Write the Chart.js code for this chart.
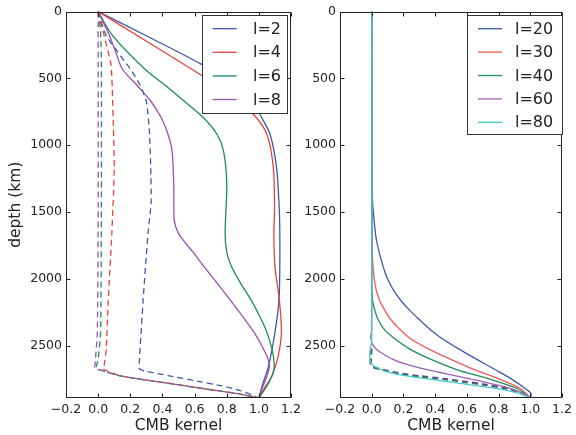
<!DOCTYPE html>
<html><head><meta charset="utf-8">
<script src="https://cdn.jsdelivr.net/npm/chart.js@4"></script>
<style>
html,body{margin:0;padding:0;background:#fff;width:576px;height:435px;overflow:hidden}
#cl{position:absolute;left:0;top:0}
#cr{position:absolute;left:305px;top:0}
</style></head>
<body>
<canvas id="cl" width="305" height="435"></canvas>
<canvas id="cr" width="271" height="435"></canvas>
<script>
// ---------- data ----------
const xTicks = [-0.2, 0.0, 0.2, 0.4, 0.6, 0.8, 1.0, 1.2];
const yTicks = [0, 500, 1000, 1500, 2000, 2500];
const cmbDepth = 2891;
const xTitle = 'CMB kernel';
const yTitle = 'depth (km)';

const leftLabels = ['l=2', 'l=4', 'l=6', 'l=8'];
const rightLabels = ['l=20', 'l=30', 'l=40', 'l=60', 'l=80'];

// left panel, solid kernels
const l2Depth = [0, 200, 390, 550, 700, 800, 920, 1170, 1490, 1660, 1900, 2155, 2400, 2650, 2800, 2891];
const l2K     = [0, 0.33, 0.635, 0.86, 0.97, 1.02, 1.07, 1.11, 1.127, 1.13, 1.13, 1.125, 1.10, 1.06, 1.02, 1.0];
const l4Depth = [0, 200, 467, 600, 770, 920, 1170, 1490, 1660, 1910, 2155, 2400, 2577, 2726, 2845, 2891];
const l4K     = [0, 0.27, 0.63, 0.80, 0.967, 1.05, 1.09, 1.097, 1.093, 1.10, 1.127, 1.14, 1.12, 1.08, 1.02, 1.0];
const l6Depth = [0, 180, 430, 550, 675, 800, 920, 1045, 1290, 1660, 1800, 1910, 2030, 2155, 2280, 2400, 2577, 2700, 2820, 2891];
const l6K     = [0, 0.09, 0.29, 0.415, 0.54, 0.66, 0.74, 0.78, 0.80, 0.79, 0.80, 0.83, 0.885, 0.95, 1.005, 1.05, 1.09, 1.09, 1.04, 1.0];
const l8Depth = [0, 180, 305, 430, 550, 675, 800, 920, 1045, 1290, 1540, 1600, 1660, 1720, 1800, 1910, 2155, 2400, 2577, 2650, 2726, 2820, 2891];
const l8K     = [0, 0.07, 0.11, 0.15, 0.24, 0.33, 0.395, 0.435, 0.46, 0.47, 0.472, 0.48, 0.50, 0.535, 0.59, 0.66, 0.82, 0.97, 1.05, 1.065, 1.05, 1.02, 1.0];

// left panel, dashed kernels
const l2dDepth = [0, 180, 430, 550, 675, 920, 1415, 1660, 2155, 2622, 2670, 2690, 2723, 2761, 2798, 2835, 2891];
const l2dK     = [0, 0.05, 0.20, 0.26, 0.30, 0.32, 0.33, 0.31, 0.28, 0.256, 0.255, 0.29, 0.435, 0.60, 0.76, 0.885, 1.0];
const l4dDepth = [0, 180, 400, 675, 1170, 1660, 2155, 2525, 2650, 2674, 2690, 2723, 2748, 2785, 2822, 2859, 2891];
const l4dK     = [0, 0.037, 0.08, 0.09, 0.10, 0.085, 0.063, 0.05, 0.037, 0.03, 0.06, 0.13, 0.25, 0.46, 0.66, 0.87, 1.0];
const l6dDepth = [0, 150, 400, 1500, 2400, 2600, 2660, 2687, 2723, 2748, 2785, 2822, 2859, 2891];
const l6dK     = [0, 0.015, 0.02, 0.02, 0.015, 0.0, -0.01, 0.027, 0.13, 0.25, 0.46, 0.66, 0.87, 1.0];
const l8dDepth = [0, 400, 1500, 2400, 2622, 2670, 2687, 2723, 2748, 2785, 2822, 2859, 2891];
const l8dK     = [0, 0.0, 0.0, -0.005, -0.018, -0.02, 0.027, 0.13, 0.25, 0.46, 0.66, 0.87, 1.0];

// right panel, solid kernels
const l20Depth = [0, 1000, 1415, 1489, 1600, 1711, 1837, 1956, 2007, 2081, 2156, 2230, 2304, 2380, 2452, 2525, 2600, 2680, 2748, 2822, 2859, 2891];
const l20K     = [0, 0, 0.005, 0.01, 0.018, 0.03, 0.055, 0.085, 0.103, 0.135, 0.18, 0.235, 0.30, 0.37, 0.45, 0.55, 0.66, 0.78, 0.88, 0.97, 1.005, 1.0];
const l30Depth = [0, 1500, 1807, 1900, 2007, 2081, 2156, 2230, 2304, 2380, 2452, 2525, 2600, 2680, 2748, 2822, 2891];
const l30K     = [0, 0, 0.003, 0.008, 0.017, 0.028, 0.048, 0.08, 0.12, 0.18, 0.25, 0.36, 0.495, 0.65, 0.80, 0.94, 1.0];
const l40Depth = [0, 2000, 2080, 2156, 2230, 2304, 2380, 2452, 2525, 2600, 2680, 2748, 2822, 2891];
const l40K     = [0, 0, 0.001, 0.005, 0.018, 0.04, 0.08, 0.15, 0.24, 0.37, 0.54, 0.74, 0.92, 1.0];
const l60Depth = [0, 2380, 2440, 2490, 2526, 2560, 2600, 2640, 2674, 2710, 2748, 2785, 2822, 2860, 2891];
const l60K     = [0, 0, -0.006, 0.005, 0.03, 0.07, 0.13, 0.22, 0.33, 0.47, 0.62, 0.76, 0.88, 0.96, 1.0];
const l80Depth = [0, 2450, 2560, 2620, 2650, 2674, 2692, 2711, 2730, 2748, 2767, 2785, 2804, 2822, 2859, 2891];
const l80K     = [0, 0, -0.012, -0.008, 0.01, 0.05, 0.09, 0.15, 0.24, 0.35, 0.465, 0.58, 0.69, 0.80, 0.94, 1.0];
// right panel, dashed kernel (visible part near the CMB)
const rdDepth = [2520, 2580, 2650, 2674, 2692, 2711, 2730, 2748, 2767, 2785, 2822, 2860, 2891];
const rdK     = [-0.003, -0.004, -0.004, 0.05, 0.11, 0.19, 0.31, 0.45, 0.57, 0.68, 0.86, 0.95, 1.0];

// ---------- styling ----------
const FONT = "'DejaVu Sans', sans-serif";
const leftColors = ['#3B5BA9', '#E8413C', '#1D8C5A', '#9B4FB5'];
const rightColors = ['#3B5BA9', '#F05A5A', '#1D8C5A', '#A060B5', '#3DCFC6'];
const dashedSlate = '#55587A';

function pts(d, k) { return d.map((v, i) => ({ x: k[i], y: v })); }

function fmtX(v) {
  const a = Math.abs(v).toFixed(1);
  return v < -1e-9 ? '\u2212' + a : a;
}

const framePlugin = {
  id: 'frame',
  afterDatasetsDraw(chart) {
    const { ctx, chartArea: a, scales } = chart;
    const L = Math.round(a.left) + 0.5, R = Math.round(a.right) - 0.5;
    const T = Math.round(a.top) + 0.5, B = Math.round(a.bottom) - 0.5;
    ctx.save();
    ctx.strokeStyle = '#222';
    ctx.lineWidth = 1;
    ctx.beginPath();
    scales.x.ticks.forEach(t => {
      const p = Math.round(scales.x.getPixelForValue(t.value)) + 0.5;
      ctx.moveTo(p, B); ctx.lineTo(p, B - 4);
      ctx.moveTo(p, T); ctx.lineTo(p, T + 4);
    });
    scales.y.ticks.forEach(t => {
      const p = Math.round(scales.y.getPixelForValue(t.value)) + 0.5;
      ctx.moveTo(L, p); ctx.lineTo(L + 4, p);
      ctx.moveTo(R, p); ctx.lineTo(R - 4, p);
    });
    ctx.stroke();
    ctx.strokeRect(L, T, R - L, B - T);
    ctx.restore();
  }
};

const legendPlugin = {
  id: 'boxLegend',
  afterDraw(chart, args, opts) {
    const { ctx } = chart;
    const items = chart.data.datasets.filter(d => d.inLegend);
    ctx.save();
    ctx.fillStyle = '#fff';
    ctx.fillRect(opts.x, opts.y, opts.w, opts.h);
    ctx.strokeStyle = '#333';
    ctx.lineWidth = 1;
    ctx.strokeRect(opts.x + 0.5, opts.y + 0.5, opts.w, opts.h);
    ctx.font = opts.fontSize + 'px ' + FONT;
    ctx.textBaseline = 'middle';
    ctx.textAlign = 'left';
    items.forEach((d, i) => {
      const cy = opts.y + opts.first + i * opts.rowH;
      ctx.strokeStyle = d.borderColor;
      ctx.lineWidth = 1.3;
      ctx.beginPath();
      ctx.moveTo(opts.x + opts.lineX0, cy);
      ctx.lineTo(opts.x + opts.lineX1, cy);
      ctx.stroke();
      ctx.fillStyle = '#222';
      ctx.fillText(d.label, opts.x + opts.textX, cy + 1);
    });
    ctx.restore();
  }
};

function makeOptions(yAxisWidth, showYTitle, padRight, legendOpts) {
  return {
    type: 'line',
    options: {
      responsive: false,
      animation: false,
      indexAxis: 'y',
      events: [],
      layout: { padding: { top: 9, right: padRight, bottom: 0, left: 0 } },
      elements: {
        point: { radius: 0 },
        line: { borderWidth: 1.3, tension: 0.3, fill: false }
      },
      plugins: {
        legend: { display: false },
        tooltip: { enabled: false },
        boxLegend: legendOpts
      },
      scales: {
        x: {
          type: 'linear', position: 'bottom',
          min: -0.2, max: 1.2,
          grid: { display: false, drawTicks: false },
          border: { display: false },
          afterBuildTicks: s => { s.ticks = xTicks.map(v => ({ value: v })); },
          afterFit: s => { s.height = 37; },
          ticks: { padding: 4, color: '#222', font: { family: FONT, size: 12.5 }, callback: v => fmtX(v), maxRotation: 0, autoSkip: false },
          title: { display: true, text: xTitle, color: '#222', font: { family: FONT, size: 15.5 }, padding: { top: 0, bottom: 0 } }
        },
        y: {
          type: 'linear', position: 'left', reverse: true,
          min: 0, max: cmbDepth,
          grid: { display: false, drawTicks: false },
          border: { display: false },
          afterBuildTicks: s => { s.ticks = yTicks.map(v => ({ value: v })); },
          afterFit: s => { s.width = yAxisWidth; },
          ticks: { padding: 4, color: '#222', font: { family: FONT, size: 12.5 }, callback: v => String(v), autoSkip: false },
          title: { display: showYTitle, text: yTitle, color: '#222', font: { family: FONT, size: 15.5 }, padding: { top: 7, bottom: 0 } }
        }
      }
    },
    plugins: [framePlugin, legendPlugin]
  };
}

// ---------- left chart ----------
const leftSolid = [[l2Depth, l2K], [l4Depth, l4K], [l6Depth, l6K], [l8Depth, l8K]];
const leftDashed = [[l2dDepth, l2dK], [l4dDepth, l4dK], [l6dDepth, l6dK], [l8dDepth, l8dK]];
const leftDatasets = [];
leftSolid.forEach((s, i) => leftDatasets.push({
  label: leftLabels[i], inLegend: true, data: pts(s[0], s[1]),
  borderColor: leftColors[i], order: 10 - i
}));
leftDashed.forEach((s, i) => leftDatasets.push({
  label: leftLabels[i] + ' (dashed)', inLegend: false, data: pts(s[0], s[1]),
  borderColor: leftColors[i], borderDash: [6, 4], tension: 0.2, order: 20 - i
}));
const cfgL = makeOptions(66, true, 10, { x: 202, y: 15, w: 85, h: 98, first: 13.7, rowH: 23.6, lineX0: 10.7, lineX1: 34.7, textX: 51, fontSize: 16 });
cfgL.data = { datasets: leftDatasets };
new Chart(document.getElementById('cl'), cfgL);

// ---------- right chart ----------
const rightSolid = [[l20Depth, l20K], [l30Depth, l30K], [l40Depth, l40K], [l60Depth, l60K], [l80Depth, l80K]];
const rightDatasets = [];
rightSolid.forEach((s, i) => rightDatasets.push({
  label: rightLabels[i], inLegend: true, data: pts(s[0], s[1]),
  borderColor: rightColors[i], order: 10 - i
}));
rightDatasets.push({
  label: 'dashed', inLegend: false, data: pts(rdDepth, rdK),
  borderColor: dashedSlate, borderDash: [6, 4], borderWidth: 2.5, tension: 0.2, order: 30
});
const cfgR = makeOptions(35, false, 6, { x: 162, y: 15, w: 95, h: 119, first: 13.7, rowH: 23.4, lineX0: 11, lineX1: 35, textX: 48, fontSize: 16 });
cfgR.data = { datasets: rightDatasets };
new Chart(document.getElementById('cr'), cfgR);
</script>
</body></html>
